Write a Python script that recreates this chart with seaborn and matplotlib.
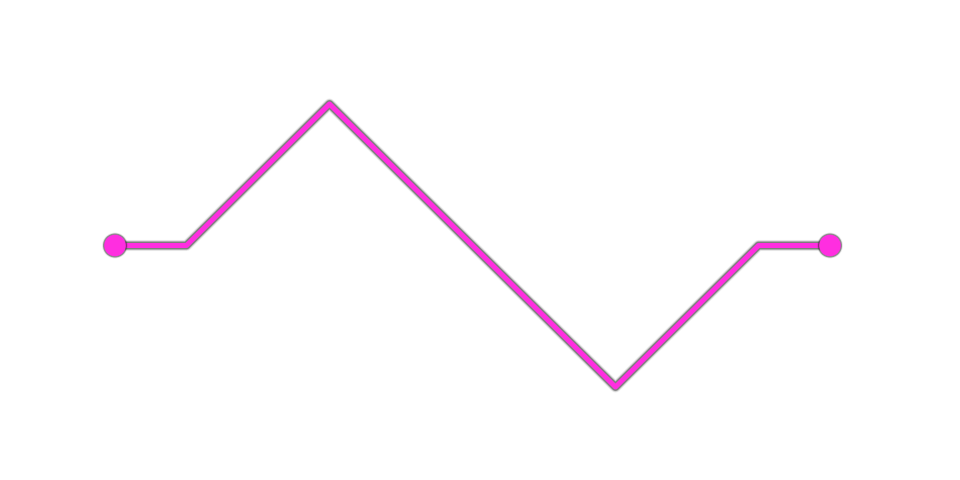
import matplotlib
matplotlib.use("Agg")
import matplotlib.pyplot as plt
import matplotlib.patheffects as pe
import seaborn as sns
import pandas as pd

# Data
x_vals = [0, 1, 3, 7, 9, 10]
y_vals = [0, 0, 1, -1, 0, 0]
end_x = [x_vals[0], x_vals[-1]]
end_y = [y_vals[0], y_vals[-1]]

LINE_COLOR = "#ff2ee0"

sns.set_style("white")
df = pd.DataFrame({"x": x_vals, "y": y_vals})
ends = pd.DataFrame({"x": end_x, "y": end_y})

fig = plt.figure(figsize=(9.6, 4.8), dpi=100)
ax = fig.add_axes([0, 0, 1, 1])

# soft dark glow under the line
glow = [
    pe.Stroke(linewidth=8.0, foreground="#000000", alpha=0.07),
    pe.Stroke(linewidth=6.8, foreground="#000000", alpha=0.15),
    pe.Stroke(linewidth=5.6, foreground="#222222", alpha=0.45),
    pe.Normal(),
]

sns.lineplot(data=df, x="x", y="y", color=LINE_COLOR, linewidth=3.6,
             ax=ax, sort=False, path_effects=glow)

dot_glow = [
    pe.Stroke(linewidth=3.0, foreground="#000000", alpha=0.1),
    pe.Stroke(linewidth=1.8, foreground="#222222", alpha=0.45),
    pe.Normal(),
]
sc = sns.scatterplot(data=ends, x="x", y="y", color=LINE_COLOR, s=240,
                     edgecolor="none", linewidth=0, ax=ax, zorder=3)
ax.collections[-1].set_path_effects(dot_glow)

ax.set_xlim(-115 / 71.5, (960 - 115) / 71.5)
ax.set_ylim(-234.5 / 141.5, 245.5 / 141.5)
ax.axis("off")

fig.savefig("out.png", dpi=100)
